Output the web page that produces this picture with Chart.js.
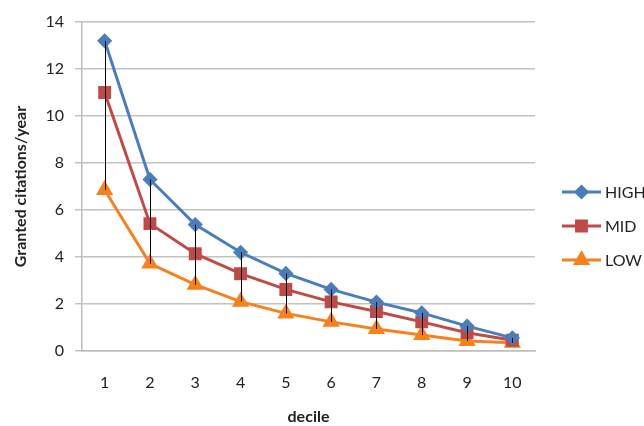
<!DOCTYPE html>
<html>
<head>
<meta charset="utf-8">
<script src="https://cdn.jsdelivr.net/npm/chart.js@4/dist/chart.umd.min.js"></script>
<style>
  html, body { margin: 0; padding: 0; background: #fff; }
  #wrap { width: 644px; height: 426px; }
</style>
</head>
<body>
<div id="wrap"><canvas id="chart" width="644" height="426"></canvas></div>
<script>
const deciles = ['1', '2', '3', '4', '5', '6', '7', '8', '9', '10'];
const highValues = [13.2, 7.3, 5.38, 4.2, 3.3, 2.62, 2.08, 1.62, 1.06, 0.56];
const midValues = [11.0, 5.42, 4.14, 3.29, 2.62, 2.09, 1.68, 1.24, 0.78, 0.46];
const lowValues = [6.85, 3.72, 2.82, 2.1, 1.6, 1.24, 0.94, 0.68, 0.43, 0.35];
const yTicks = [0, 2, 4, 6, 8, 10, 12, 14];

const FONT = 'Lato, "Open Sans", sans-serif';

const colors = {
  high: '#4A7EBB',
  mid: '#BE4B48',
  low: '#F5821F',
};

// black high-low lines between HIGH and LOW at each decile
const highLowLines = {
  id: 'highLowLines',
  afterDatasetsDraw(chart) {
    const { ctx, scales: { x, y } } = chart;
    ctx.save();
    ctx.strokeStyle = '#000';
    ctx.lineWidth = 1;
    deciles.forEach((d, i) => {
      const px = Math.round(x.getPixelForValue(i)) + 0.5;
      ctx.beginPath();
      ctx.moveTo(px, y.getPixelForValue(highValues[i]));
      ctx.lineTo(px, y.getPixelForValue(lowValues[i]));
      ctx.stroke();
    });
    ctx.restore();
  },
};

// legend on the right, Excel style (line with marker through it)
const sideLegend = {
  id: 'sideLegend',
  afterDraw(chart) {
    const { ctx, chartArea } = chart;
    const left = chartArea.right + 27;
    const top = 192;
    const gap = 34;
    ctx.save();
    chart.data.datasets.forEach((ds, i) => {
      const cy = top + i * gap;
      ctx.strokeStyle = ds.borderColor;
      ctx.lineWidth = 3;
      ctx.beginPath();
      ctx.moveTo(left, cy);
      ctx.lineTo(left + 39, cy);
      ctx.stroke();
      Chart.helpers.drawPoint(ctx, {
        pointStyle: ds.pointStyle,
        radius: ds.pointRadius,
        borderWidth: 1,
      }, left + 19.5, cy);
      ctx.fillStyle = ds.pointBackgroundColor;
      ctx.fill();
      ctx.fillStyle = '#222';
      ctx.font = '16px ' + FONT;
      ctx.textBaseline = 'middle';
      ctx.textAlign = 'left';
      ctx.fillText(ds.label, left + 43, cy + 1);
    });
    ctx.restore();
  },
};

function series(label, data, color, style, radius) {
  return {
    label,
    data,
    borderColor: color,
    backgroundColor: color,
    pointBackgroundColor: color,
    pointBorderColor: color,
    pointStyle: style,
    pointRadius: radius,
    pointHoverRadius: radius,
    borderWidth: 3,
    tension: 0,
  };
}

new Chart(document.getElementById('chart'), {
  type: 'line',
  data: {
    labels: deciles,
    datasets: [
      series('HIGH', highValues, colors.high, 'rectRot', 5.5),
      series('MID', midValues, colors.mid, 'rect', 7),
      series('LOW', lowValues, colors.low, 'triangle', 7),
    ],
  },
  options: {
    responsive: false,
    animation: false,
    layout: { padding: { top: 22, right: 109, left: 0, bottom: 0 } },
    plugins: {
      legend: { display: false },
      tooltip: { enabled: false },
    },
    scales: {
      x: {
        offset: true,
        grid: { display: false },
        border: { display: true, color: '#BDBDBD', width: 1.5 },
        ticks: { color: '#222', font: { family: FONT, size: 16 }, padding: 14, maxRotation: 0 },
        title: {
          display: true,
          text: 'decile',
          color: '#222',
          font: { family: FONT, size: 16, weight: 'bold' },
          padding: { top: 0, bottom: 0 },
        },
        afterFit(scale) { scale.height = 75; },
      },
      y: {
        min: 0,
        max: 14,
        afterBuildTicks(scale) { scale.ticks = yTicks.map((v) => ({ value: v })); },
        grid: { color: '#C4C2BE', lineWidth: 1.5, tickLength: 7, drawTicks: true },
        border: { display: true, color: '#BDBBB7', width: 1.5 },
        ticks: { color: '#222', font: { family: FONT, size: 16 }, padding: 11 },
        title: {
          display: true,
          text: 'Granted citations/year',
          color: '#222',
          font: { family: FONT, size: 16, weight: 'bold' },
          padding: { top: 11, bottom: 0 },
        },
        afterFit(scale) { scale.width = 82; },
      },
    },
  },
  plugins: [highLowLines, sideLegend],
});
</script>
</body>
</html>
